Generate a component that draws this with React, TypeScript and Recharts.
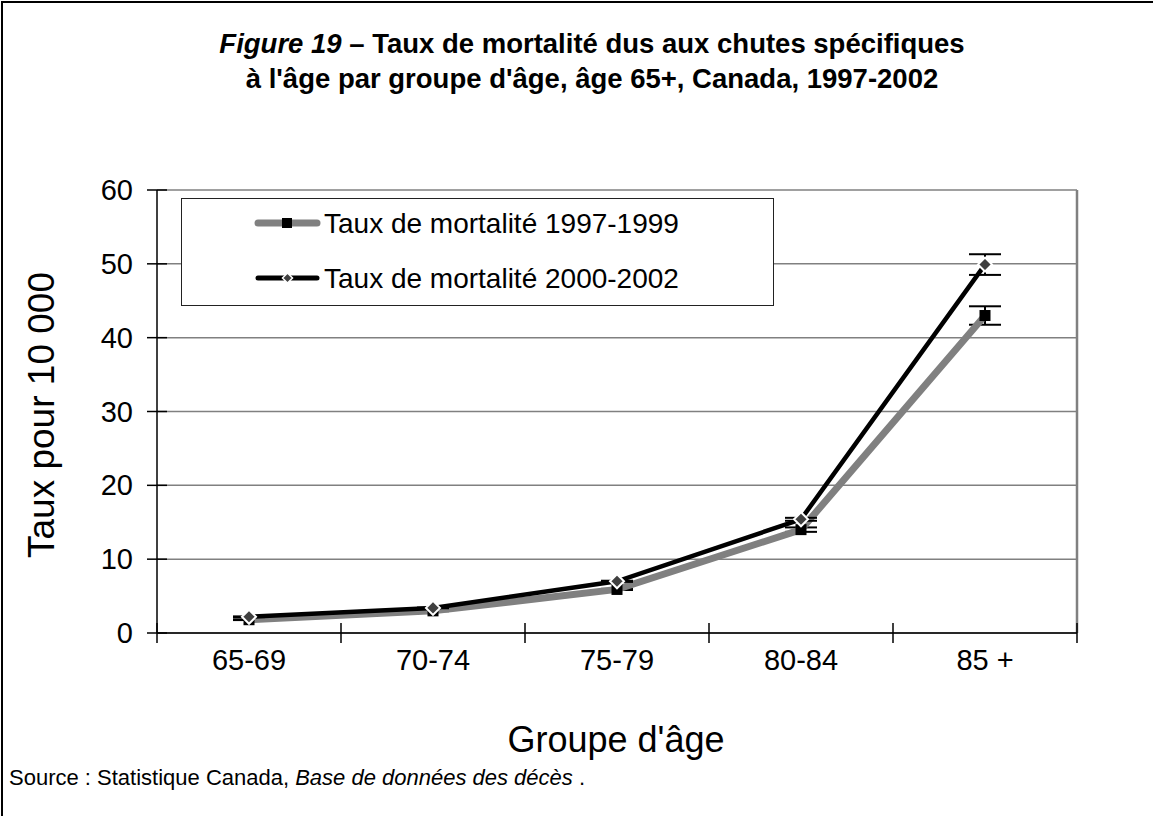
import React from 'react';
import { LineChart, Line, XAxis, YAxis, CartesianGrid, ErrorBar, ReferenceLine } from 'recharts';

const groups = ['65-69', '70-74', '75-79', '80-84', '85 +'];
const rate9799 = [1.8, 3.0, 5.9, 14.0, 43.0];
const rate0002 = [2.2, 3.4, 7.0, 15.4, 49.9];
const err9799 = [0.05, 0.05, 0.08, 0.3, 1.25];
const err0002 = [0.05, 0.05, 0.08, 0.2, 1.4];
const yTicks = [0, 10, 20, 30, 40, 50, 60];
const seriesNames = ['Taux de mortalité 1997-1999', 'Taux de mortalité 2000-2002'];

const data = groups.map((g, i) => ({
  group: g,
  x: i + 0.5,
  a: rate9799[i],
  ea: err9799[i],
  b: rate0002[i],
  eb: err0002[i],
}));

const xTicks: number[] = [];
for (let i = 0; i <= groups.length * 2; i++) xTicks.push(i / 2);

const FONT = '"Liberation Sans", Arial, Helvetica, sans-serif';

const XTick = (props: any) => {
  const { x, y, payload } = props;
  const v = payload.value;
  if (Number.isInteger(v)) {
    return <line x1={x} x2={x} y1={y - 10} y2={y + 10} stroke="#000" strokeWidth={1.5} />;
  }
  return (
    <text x={x} y={y} dy={37} textAnchor="middle" fontSize={29} fontFamily={FONT} fill="#000">
      {groups[Math.floor(v)]}
    </text>
  );
};

const YTick = (props: any) => {
  const { x, y, payload } = props;
  return (
    <g>
      <line x1={x - 10} x2={x + 10} y1={y} y2={y} stroke="#000" strokeWidth={1.5} />
      <text x={x - 24} y={y} dy={10} textAnchor="end" fontSize={29} fontFamily={FONT} fill="#000">
        {payload.value}
      </text>
    </g>
  );
};

const SquareDot = (props: any) => {
  const { cx, cy } = props;
  if (cx == null || cy == null) return null;
  return <rect x={cx - 5.5} y={cy - 5.5} width={11} height={11} fill="#000" />;
};

const DiamondDot = (props: any) => {
  const { cx, cy } = props;
  if (cx == null || cy == null) return null;
  const r = 7;
  return (
    <path
      d={`M${cx},${cy - r}L${cx + r},${cy}L${cx},${cy + r}L${cx - r},${cy}Z`}
      fill="#404040"
      stroke="#fff"
      strokeWidth={2}
    />
  );
};

const LegendBox = () => (
  <svg
    width={594}
    height={109}
    style={{ position: 'absolute', left: 181, top: 198, display: 'block', pointerEvents: 'none' }}
  >
    <rect x={0.5} y={0.5} width={592} height={107} fill="#fff" stroke="#222" strokeWidth={1} />
    <line x1={77} x2={136} y1={25} y2={25} stroke="#808080" strokeWidth={7} strokeLinecap="round" />
    <rect x={101} y={20} width={10} height={10} fill="#000" />
    <text x={143} y={25} dy={10} fontSize={28} fontFamily={FONT} fill="#000">{seriesNames[0]}</text>
    <line x1={77} x2={136} y1={80} y2={80} stroke="#000" strokeWidth={5} strokeLinecap="round" />
    <path d="M106.5,75L111.5,80L106.5,85L101.5,80Z" fill="#404040" stroke="#fff" strokeWidth={1.5} />
    <text x={143} y={80} dy={10} fontSize={28} fontFamily={FONT} fill="#000">{seriesNames[1]}</text>
  </svg>
);

export default function App() {
  return (
    <div style={{ position: 'absolute', left: 0, top: 0, width: 1153, height: 816, background: '#fff', fontFamily: FONT }}>
      <LineChart
        width={1153}
        height={816}
        data={data}
        margin={{ top: 190, right: 76, left: 77, bottom: 123 }}
      >
        <CartesianGrid vertical={false} stroke="#808080" strokeWidth={1.5} />
        <ReferenceLine x={5} stroke="#808080" strokeWidth={2.5} ifOverflow="extendDomain" />
        <XAxis
          dataKey="x"
          type="number"
          domain={[0, 5]}
          ticks={xTicks}
          interval={0}
          height={60}
          tickSize={0}
          tickMargin={0}
          tickLine={false}
          axisLine={{ stroke: '#000', strokeWidth: 1.5 }}
          tick={<XTick />}
          allowDecimals
        />
        <YAxis
          type="number"
          domain={[0, 60]}
          ticks={yTicks}
          interval={0}
          width={80}
          tickSize={0}
          tickMargin={0}
          tickLine={false}
          axisLine={{ stroke: '#000', strokeWidth: 1.5 }}
          tick={<YTick />}
        />
        <Line
          dataKey="a"
          name={seriesNames[0]}
          stroke="#808080"
          strokeWidth={7}
          dot={<SquareDot />}
          isAnimationActive={false}
        >
          <ErrorBar dataKey="ea" width={16} stroke="#000" strokeWidth={2} direction="y" />
        </Line>
        <Line
          dataKey="b"
          name={seriesNames[1]}
          stroke="#000"
          strokeWidth={4.5}
          dot={<DiamondDot />}
          isAnimationActive={false}
        >
          <ErrorBar dataKey="eb" width={16} stroke="#000" strokeWidth={2} direction="y" />
        </Line>
      </LineChart>
      <LegendBox />
      <svg
        width={1153}
        height={816}
        style={{ position: 'absolute', left: 0, top: 0, pointerEvents: 'none' }}
      >
        <line x1={2} x2={2} y1={1} y2={816} stroke="#000" strokeWidth={2} />
        <line x1={1} x2={1153} y1={2} y2={2} stroke="#000" strokeWidth={2} />
        <text x={592} y={53} textAnchor="middle" fontSize={27.5} fontWeight="bold" fontFamily={FONT} fill="#000">
          <tspan fontStyle="italic">Figure 19</tspan>
          <tspan> – Taux de mortalité dus aux chutes spécifiques</tspan>
        </text>
        <text x={592} y={88} textAnchor="middle" fontSize={27.5} fontWeight="bold" fontFamily={FONT} fill="#000">
          à l'âge par groupe d'âge, âge 65+, Canada, 1997-2002
        </text>
        <text
          x={0}
          y={0}
          transform="translate(54,415) rotate(-90)"
          textAnchor="middle"
          fontSize={37}
          fontFamily={FONT}
          fill="#000"
        >
          Taux pour 10 000
        </text>
        <text x={616} y={752} textAnchor="middle" fontSize={36} fontFamily={FONT} fill="#000">
          Groupe d'âge
        </text>
        <text x={9} y={785} fontSize={22} fontFamily={FONT} fill="#000">
          Source : Statistique Canada, <tspan fontStyle="italic">Base de données des décès</tspan> .
        </text>
      </svg>
    </div>
  );
}
